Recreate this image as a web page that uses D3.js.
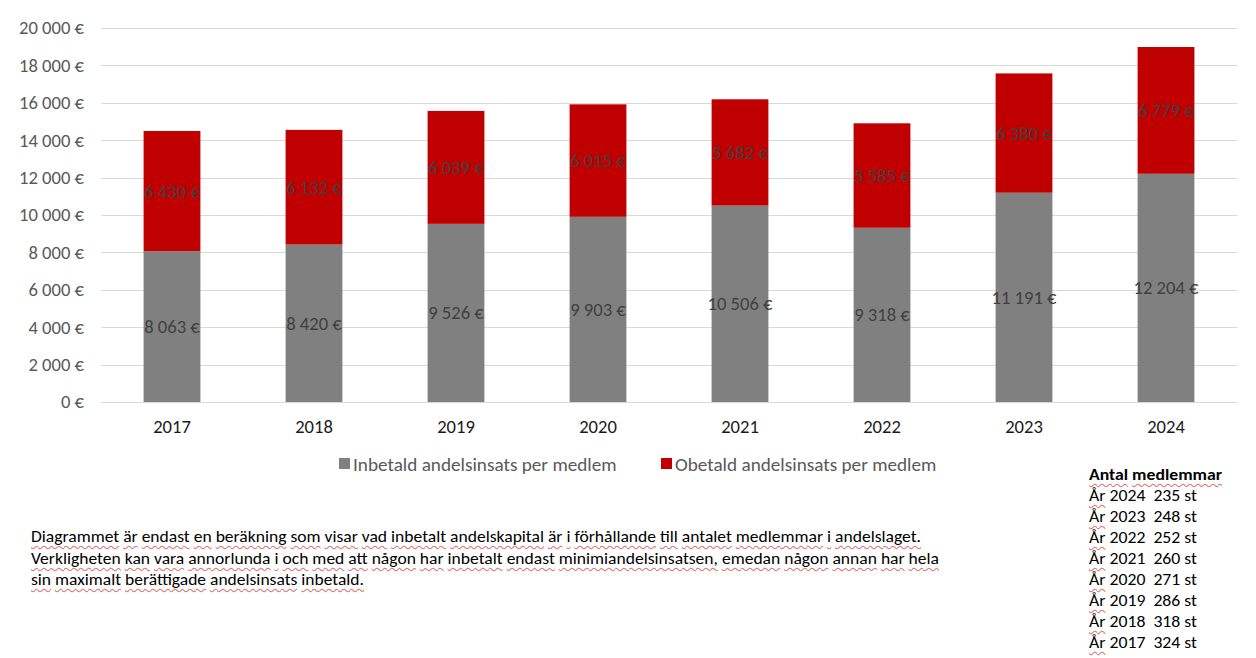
<!DOCTYPE html>
<html><head><meta charset="utf-8">
<script src="https://cdn.jsdelivr.net/npm/d3@7"></script>
<style>
body{margin:0;background:#fff;}
#wrap{position:relative;width:1256px;height:658px;overflow:hidden;font-family:Carlito,Lato,"Open Sans",sans-serif;}
svg{position:absolute;left:0;top:0;}
.line{position:absolute;white-space:nowrap;transform-origin:0 0;color:#000;}
.w{text-decoration:underline wavy #e07070;text-decoration-thickness:1px;text-underline-offset:3px;}
</style></head><body><div id="wrap"></div>
<script>
const years = ["2017","2018","2019","2020","2021","2022","2023","2024"];
const inbetald = [8063, 8420, 9526, 9903, 10506, 9318, 11191, 12204];
const obetald = [6430, 6132, 6039, 6015, 5682, 5585, 6380, 6779];
const seriesNames = ["Inbetald andelsinsats per medlem", "Obetald andelsinsats per medlem"];
const seriesColors = ["#808080", "#c00000"];
const yTicks = [0,2000,4000,6000,8000,10000,12000,14000,16000,18000,20000];
const memberYears = ["2024","2023","2022","2021","2020","2019","2018","2017"];
const members = [235,248,252,260,271,286,318,324];
const noteLines = [
 "Diagrammet är endast en beräkning som visar vad inbetalt andelskapital är i förhållande till antalet medlemmar i andelslaget.",
 "Verkligheten kan vara annorlunda i och med att någon har inbetalt endast minimiandelsinsatsen, emedan någon annan har hela",
 "sin maximalt berättigade andelsinsats inbetald."
];

const W=1256,H=658;
const wrap=d3.select("#wrap");
const svg=wrap.append("svg").attr("width",W).attr("height",H);
const fmt=v=>d3.format(",")(v).replace(/,/g,"\u00a0")+"\u00a0€";
const font="Carlito,Lato,'Open Sans',sans-serif";
const fs=18.6;

const x=d3.scaleBand().domain(years).range([101,1237]).paddingInner(0.6).paddingOuter(0.3);
const y=d3.scaleLinear().domain([0,20000]).range([402,28]);

// grid
svg.append("g").selectAll("line").data(yTicks).join("line")
 .attr("x1",101).attr("x2",1237).attr("y1",d=>Math.round(y(d))+0.5).attr("y2",d=>Math.round(y(d))+0.5)
 .attr("stroke","#d9d9d9").attr("stroke-width",1);

// y axis labels
const yAxis=d3.axisLeft(y).tickValues(yTicks).tickFormat(fmt).tickSize(0).tickPadding(0);
const ya=svg.append("g").attr("transform","translate(84,0)").call(yAxis);
ya.select(".domain").remove();
ya.selectAll("text").attr("font-family",font).attr("font-size",fs).attr("fill","#595959");

// x axis
const xAxis=d3.axisBottom(x).tickSize(0).tickPadding(0);
const xa=svg.append("g").attr("transform","translate(0,426)").call(xAxis);
xa.select(".domain").remove();
xa.selectAll("text").attr("font-family",font).attr("font-size",fs).attr("fill","#1a1a1a").attr("dy","0.35em");

// bars
const stackData=years.map((yr,i)=>({year:yr,a:inbetald[i],b:obetald[i]}));
const stack=d3.stack().keys(["a","b"])(stackData);
const g=svg.append("g");
stack.forEach((s,si)=>{
  g.append("g").selectAll("rect").data(s).join("rect")
   .attr("x",d=>x(d.data.year)).attr("width",x.bandwidth())
   .attr("y",d=>y(d[1])).attr("height",d=>y(d[0])-y(d[1]))
   .attr("fill",seriesColors[si]);
});
stack.forEach((s,si)=>{
  g.append("g").selectAll("text").data(s).join("text")
   .attr("x",d=>x(d.data.year)+x.bandwidth()/2)
   .attr("y",d=>y((d[0]+d[1])/2)).attr("dy","0.35em")
   .attr("text-anchor","middle").attr("font-family",font).attr("font-size",fs)
   .attr("fill","#404040").text(d=>fmt(d[1]-d[0]));
});

// legend
const leg=[{x:339,tx:353},{x:661,tx:675}];
seriesNames.forEach((n,i)=>{
  svg.append("rect").attr("x",leg[i].x).attr("y",458).attr("width",11).attr("height",11).attr("fill",seriesColors[i]);
  svg.append("text").attr("x",leg[i].tx).attr("y",464).attr("dy","0.35em").attr("font-family",font).attr("font-size",19.2).attr("fill","#595959").text(n);
});

// note lines (html)
function addLine(txt,left,top,size,targetW,opts={}){
  const div=wrap.append("div").attr("class","line").style("left",left+"px").style("top",top+"px").style("font-size",size+"px");
  if(opts.bold) div.style("font-weight","bold");
  const words=txt.split(" ");
  words.forEach((w,i)=>{
    div.append("span").attr("class",opts.noUnderline&&opts.noUnderline.includes(i)?"":"w").text(w);
    if(i<words.length-1) div.append("span").text(" ");
  });
  if(targetW){const wd=div.node().getBoundingClientRect().width; div.style("transform","scaleX("+(targetW/wd)+")");}
  return div;
}
const noteW=[890,908,333];
noteLines.forEach((t,i)=>addLine(t,31,526+i*21.5,16.5,noteW[i]));

// member table
addLine("Antal medlemmar",1089,464,16.5,133,{bold:true});
memberYears.forEach((yr,i)=>{
  addLine("År "+yr+"\u00a0\u00a0"+members[i]+" st",1089,485+i*21,16.5,108,{noUnderline:[1,2]});
});
</script></body></html>
